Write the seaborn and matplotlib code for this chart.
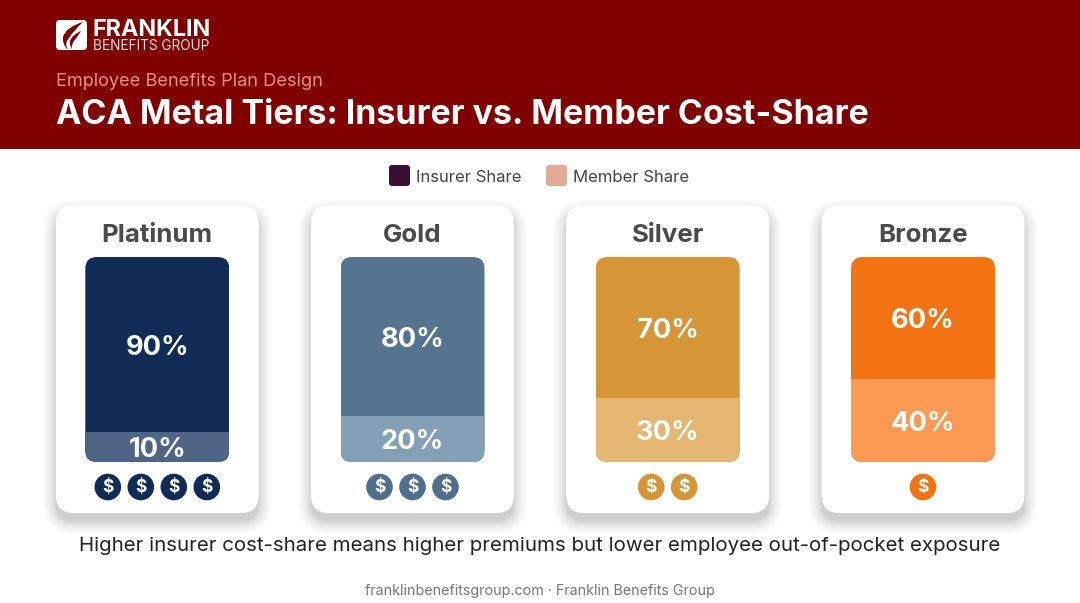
import matplotlib
matplotlib.use("Agg")
import matplotlib.pyplot as plt
from matplotlib.patches import FancyBboxPatch, Rectangle, PathPatch, Circle
from matplotlib.path import Path
import pandas as pd
import seaborn as sns

tiers = ["Platinum", "Gold", "Silver", "Bronze"]
insurer = [90, 80, 70, 60]
member = [10, 20, 30, 40]
# drawn height of the member segment (% of bar height)
member_drawn = [14.6, 22.4, 31.2, 40.5]
insurer_colors = ["#102B56", "#54748F", "#D69536", "#F47414"]
member_colors = ["#4F6585", "#84A0B6", "#E5B672", "#FF9A55"]
icon_colors = ["#102B56", "#4F6F8C", "#D69536", "#F47414"]
dollar_counts = [4, 3, 2, 1]
legend_labels = ["Insurer Share", "Member Share"]
legend_colors = ["#3B0F33", "#E3AB97"]
header_small = "Employee Benefits Plan Design"
header_title = "ACA Metal Tiers: Insurer vs. Member Cost-Share"
caption = "Higher insurer cost-share means higher premiums but lower employee out-of-pocket exposure"
footer = "franklinbenefitsgroup.com · Franklin Benefits Group"

sns.set_theme(style="white")
plt.rcParams["font.family"] = ["Inter", "DejaVu Sans"]

W, H = 1080, 603
fig = plt.figure(figsize=(W / 100, H / 100), dpi=100, facecolor="white")

bg = fig.add_axes([0, 0, 1, 1], zorder=0)
bg.set_xlim(0, W)
bg.set_ylim(H, 0)
bg.axis("off")

RED = "#800000"
bg.add_patch(Rectangle((0, 0), W, 149, fc=RED, ec="none"))

# logo
bg.add_patch(FancyBboxPatch((58, 22), 27, 26, boxstyle="round,pad=2,rounding_size=4", fc="white", ec="none"))
M, C, L, Z = Path.MOVETO, Path.CURVE3, Path.LINETO, Path.CLOSEPOLY
flame1 = Path([(83, 22), (66, 27), (63, 37), (62, 44), (68, 50), (64, 43), (69, 38), (74, 30), (83, 22), (83, 22)],
              [M, C, C, C, C, C, C, C, C, Z])
flame2 = Path([(81, 31), (72, 35), (70, 41), (69, 45), (72, 49), (71, 45), (74, 41), (78, 36), (81, 31), (81, 31)],
              [M, C, C, C, C, C, C, C, C, Z])
bg.add_patch(PathPatch(flame1, fc=RED, ec="none"))
bg.add_patch(PathPatch(flame2, fc=RED, ec="none"))
bg.text(93, 30, "FRANKLIN", color="white", fontsize=16.8, fontweight="bold", va="center", ha="left")
bg.text(93, 46, "BENEFITS GROUP", color="#F2DEDE", fontsize=9.8, va="center", ha="left")

bg.text(56, 82, header_small, color="#E98F8A", fontsize=13.1, va="center", ha="left")
bg.text(56, 115, header_title, color="white", fontsize=24.5, fontweight="bold", va="center", ha="left")

# legend
for bx, c, lab in zip([391, 548], legend_colors, legend_labels):
    bg.add_patch(FancyBboxPatch((bx, 167), 17, 17, boxstyle="round,pad=2,rounding_size=3", fc=c, ec="none"))
    bg.text(bx + 25, 177.5, lab, color="#444444", fontsize=12, va="center", ha="left")

# cards
centers = [157.3, 412.5, 667.7, 923]
cw, ch, top = 203, 308, 205
n_layers = 24
for cx, name, n, ic in zip(centers, tiers, dollar_counts, icon_colors):
    left = cx - cw / 2
    for j in range(n_layers, 0, -1):
        k = 13 * (j / n_layers) ** 1.6
        bg.add_patch(FancyBboxPatch((left - k, top + 8 - k), cw + 2 * k, ch + 2 * k,
                                    boxstyle="round,pad=0,rounding_size=%.1f" % (18 + k),
                                    fc="black", ec="none", alpha=0.0065))
    bg.add_patch(FancyBboxPatch((left, top), cw, ch, boxstyle="round,pad=0,rounding_size=18", fc="white", ec="none"))
    bg.text(cx, 236, name, color="#4A4A4A", fontsize=18.6, fontweight="bold", ha="center", va="center")
    start = cx - 33 * (n - 1) / 2
    for i in range(n):
        xc = start + 33 * i
        bg.add_patch(Circle((xc, 487), 13.3, fc=ic, ec="none"))
        bg.text(xc, 488, "$", color="white", fontsize=12.5, fontweight="bold", ha="center", va="center")

bg.text(540, 546, caption, color="#222222", fontsize=14.7, ha="center", va="center")
bg.text(540, 591, footer, color="#777777", fontsize=10.25, ha="center", va="center")

# stacked bars: one unit on x is the card pitch, y is percent
pitch = 255.2
x0 = (centers[0] - 0.5 * pitch) / W
ax = fig.add_axes([x0, (H - 462) / H, 4 * pitch / W, 205 / H], zorder=2)
ax.patch.set_alpha(0)
df = pd.DataFrame({"tier": tiers, "insurer": insurer, "member": member, "drawn": member_drawn})
df["total"] = 100
bw = 144 / pitch
sns.barplot(data=df, x="tier", y="total", hue="tier", palette=insurer_colors, legend=False,
            width=bw, saturation=1, ax=ax, linewidth=0)
n_top = len(ax.patches)
sns.barplot(data=df, x="tier", y="drawn", hue="tier", palette=member_colors, legend=False,
            width=bw, saturation=1, ax=ax, linewidth=0)
ax.set_xlim(-0.5, 3.5)
ax.set_ylim(0, 100)
ax.axis("off")

label_kw = dict(color="white", fontsize=19.6, fontweight="bold", ha="center", va="center",
                textcoords="offset points", xytext=(0, -2.2))
for i in range(4):
    clip = FancyBboxPatch((centers[i] - 72, 257), 144, 205, boxstyle="round,pad=0,rounding_size=12",
                          transform=bg.transData, fc="none", ec="none")
    ax.patches[i].set_clip_path(clip)
    ax.patches[n_top + i].set_clip_path(clip)
    d = member_drawn[i]
    ax.annotate(f"{insurer[i]}%", (i, d + (100 - d) / 2), **label_kw)
    ax.annotate(f"{member[i]}%", (i, d / 2), **label_kw)

fig.savefig("out.png", dpi=100)
